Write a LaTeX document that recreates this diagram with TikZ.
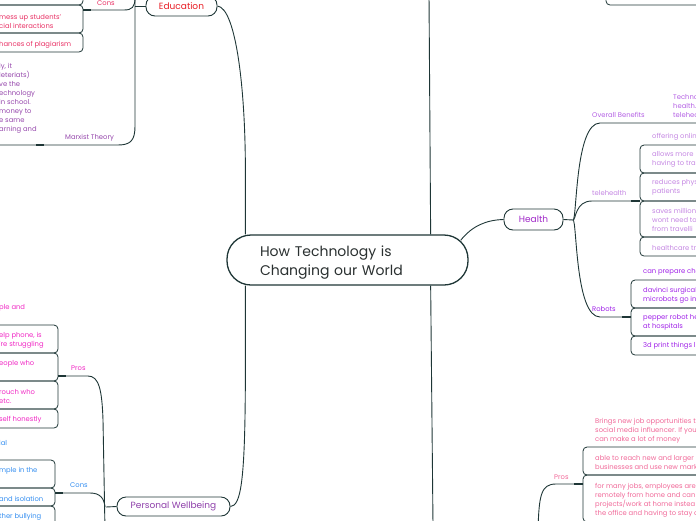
\documentclass[tikz,border=0pt]{standalone}
\usepackage{fontspec}
\setmainfont{Poppins}
\usepackage{tikz}
\usetikzlibrary{positioning}
\definecolor{wire}{RGB}{30,54,54}
\definecolor{ink}{RGB}{42,48,48}
\definecolor{eduRed}{RGB}{232,28,36}
\definecolor{eduPink}{RGB}{232,48,100}
\definecolor{marx}{RGB}{150,72,172}
\definecolor{healthPurple}{RGB}{160,40,200}
\definecolor{overall}{RGB}{180,96,228}
\definecolor{tele}{RGB}{196,134,226}
\definecolor{robot}{RGB}{160,34,232}
\definecolor{workPink}{RGB}{240,104,152}
\definecolor{pwPurple}{RGB}{142,64,170}
\definecolor{pwPink}{RGB}{240,40,196}
\definecolor{pwBlue}{RGB}{52,142,240}
\tikzset{
  hub/.style={draw=wire,line width=1.3pt,rounded corners=24pt,align=left,
    minimum width=241pt,minimum height=50pt,text width=175pt,inner xsep=33pt,
    text=ink,font=\fontsize{14}{19}\selectfont},
  topic/.style={draw=wire,line width=0.9pt,rounded corners=9pt,inner sep=0pt,
    minimum height=20pt,font=\fontsize{9}{11}\selectfont},
  twig/.style={inner sep=0pt,align=left,anchor=west,font=\fontsize{6.8}{9}\selectfont},
  branch/.style={draw=wire,line width=0.9pt},
  rack/.style={draw=wire,line width=0.8pt,rounded corners=4pt},
  stub/.style={draw=wire,line width=1.8pt},
}

\begin{document}
\begin{tikzpicture}[x=1pt,y=-1pt]
  \useasboundingbox (0,0) rectangle (696,520);
  \clip (0,0) rectangle (696,520);

  \node[hub] (world) at (347.5,260) {\rule{0pt}{16pt}How Technology is\\Changing our World};
  \node[topic,minimum width=71pt,text=eduRed] (edu) at (181.5,6) {Education};
  \node[topic,minimum width=59pt,minimum height=21pt,text=healthPurple] (health) at (533.5,219.5) {Health};
  \node[topic,minimum width=113pt,minimum height=19pt,text=pwPurple] (pw) at (173.5,506.5) {Personal Wellbeing};

  \coordinate (upper) at (429,-5);
  \coordinate (lower) at (433,525);
  \draw[branch] ([xshift=19pt]world.north west) -- ++(0,-55) .. controls (246,90) and (236,8) .. (edu.east);
  \draw[branch] ([xshift=-38pt]world.north east) -- (upper);
  \draw[branch] ([xshift=-38pt]world.south east) -- (lower);
  \draw[branch] ([xshift=19pt]world.south west) -- ++(0,95) .. controls (245,480) and (241,506) .. (pw.east);
  \draw[branch] ([xshift=-8pt,yshift=-6pt]world.north east) .. controls (472,226) and (486,220) .. (health.west);

  % education
  \coordinate (ehub) at (135,6);
  \draw[branch] (edu.west) -- (ehub);
  \draw[branch] (135,-10) -- (135,126) .. controls (135,140) and (131,145) .. (118,145) -- (-5,145);
  \draw[branch] (135,-2) .. controls (135,7) and (132,10) .. (124,10) -- (83,10);
  \draw[stub] (83,10) -- (91,10);
  \draw[stub] (36,145) -- (44,145);
  \node[twig,text=eduPink] (edcons) at (97,3) {Cons};
  \foreach \t/\b in {-30/5,5/33,33/52}
    \draw[rack] (-5,\t) -- (83,\t) -- (83,\b) -- (-5,\b);
  \node[twig,text=eduPink] (mess) at (-1,21.5) {mess up students'\\cial interactions};
  \node[twig,text=eduPink] (plag) at (-1,45) {hances of plagiarism};
  \node[twig,text=marx] (marxist) at (65,138) {Marxist Theory};
  \node[twig,text=marx] (marxnote) at (-1,98) {ly, it\\leteriats)\\ve the\\echnology\\in school.\\money to\\e same\\arning and};

  % personal wellbeing
  \coordinate (phub) at (106,507);
  \coordinate (pfoot) at (105,530);
  \draw[branch] (pw.west) -- (phub);
  \draw[branch] (58,376) -- (88,376) .. controls (99,376) and (102,390) .. (103,420) -- (pfoot);
  \draw[branch] (55,493) -- (90,493) .. controls (100,493) and (104,498) .. (105,507);
  \draw[stub] (58,376) -- (66,376);
  \draw[stub] (55,493) -- (63,493);
  \node[twig,text=pwPink] (pwpros) at (71,368) {Pros};
  \node[twig,text=pwBlue] (pwcons) at (70,485) {Cons};
  \foreach \t/\b in {325/353,353/381,381/409,409/428}
    \draw[rack] (-5,\t) -- (58,\t) -- (58,\b) -- (-5,\b);
  \foreach \t/\b in {460/488,488/506,506/540}
    \draw[rack] (-5,\t) -- (55,\t) -- (55,\b) -- (-5,\b);
  \node[twig,text=pwPink] (friends) at (-1,308) {ple and};
  \node[twig,text=pwPink] (helpline) at (-1,340.5) {elp phone, is\\'re struggling};
  \node[twig,text=pwPink] (people) at (-1,364) {eople who};
  \node[twig,text=pwPink] (touch) at (-1,396.5) {rouch who\\etc.};
  \node[twig,text=pwPink] (honest) at (-1,420) {self honestly};
  \node[twig,text=pwBlue] (social) at (-1,443) {ial};
  \node[twig,text=pwBlue] (simple) at (-1,471) {mple in the};
  \node[twig,text=pwBlue] (isolate) at (-1,499) {and isolation};
  \node[twig,text=pwBlue] (bully) at (-1,517) {ther bullying};

  % health
  \coordinate (hhub) at (573,220);
  \draw[branch] (health.east) -- (hhub);
  \draw[branch] (hhub) .. controls (577,220) and (575,123) .. (600,123) -- (700,123);
  \draw[branch] (hhub) .. controls (576,220) and (575,201) .. (592,201) -- (640,201);
  \draw[branch] (hhub) .. controls (577,220) and (575,317) .. (600,317) -- (631,317);
  \draw[stub] (631,201) -- (640,201);
  \draw[stub] (622,317) -- (631,317);
  \node[twig,text=overall] (benefits) at (592,115) {Overall Benefits};
  \node[twig,text=overall] (benefitnote) at (673,106) {Techno\\health.\\telehea};
  \node[twig,text=tele] (telehealth) at (592,193) {telehealth};
  \node[twig,text=robot] (robots) at (592,309) {Robots};
  \foreach \t/\b in {145/173,173/201,201/237,237/256}
    \draw[rack] (700,\t) -- (640,\t) -- (640,\b) -- (700,\b);
  \node[twig,text=tele] (online) at (652,137) {offering onlin};
  \node[twig,text=tele] (travel) at (652,159.5) {allows more\\having to tra};
  \node[twig,text=tele] (contact) at (652,187.5) {reduces phys\\patients};
  \node[twig,text=tele] (savings) at (652,220) {saves million\\wont need to\\from travelli};
  \node[twig,text=tele] (care) at (652,248) {healthcare tr};
  \foreach \t/\b in {280/308,308/336,336/355}
    \draw[rack] (700,\t) -- (631,\t) -- (631,\b) -- (700,\b);
  \node[twig,text=robot] (chemo) at (643,272) {can prepare che};
  \node[twig,text=robot] (davinci) at (643,295.5) {davinci surgical\\microbots go in};
  \node[twig,text=robot] (pepper) at (643,322.5) {pepper robot he\\at hospitals};
  \node[twig,text=robot] (print) at (643,346) {3d print things li};

  % top right remnant
  \draw[rack] (700,-30) -- (606,-30) -- (606,5) -- (700,5);

  % bottom right pros
  \coordinate (wfoot) at (538,530);
  \draw[branch] (wfoot) .. controls (539,495) and (541,484) .. (556,484) -- (583,484);
  \draw[stub] (574,484) -- (583,484);
  \node[twig,text=workPink] (wpros) at (554,477) {Pros};
  \foreach \t/\b in {447/475,475/522}
    \draw[rack] (700,\t) -- (583,\t) -- (583,\b) -- (700,\b);
  \node[twig,text=workPink] (jobs) at (595,431) {Brings new job opportunities t\\social media influencer. If you\\can make a lot of money};
  \node[twig,text=workPink] (reach) at (595,462.5) {able to reach new and larger\\businesses and use new mark};
  \node[twig,text=workPink] (remote) at (595,500.5) {for many jobs, employees are\\remotely from home and can\\projects/work at home instea\\the office and having to stay a};
\end{tikzpicture}
\end{document}
